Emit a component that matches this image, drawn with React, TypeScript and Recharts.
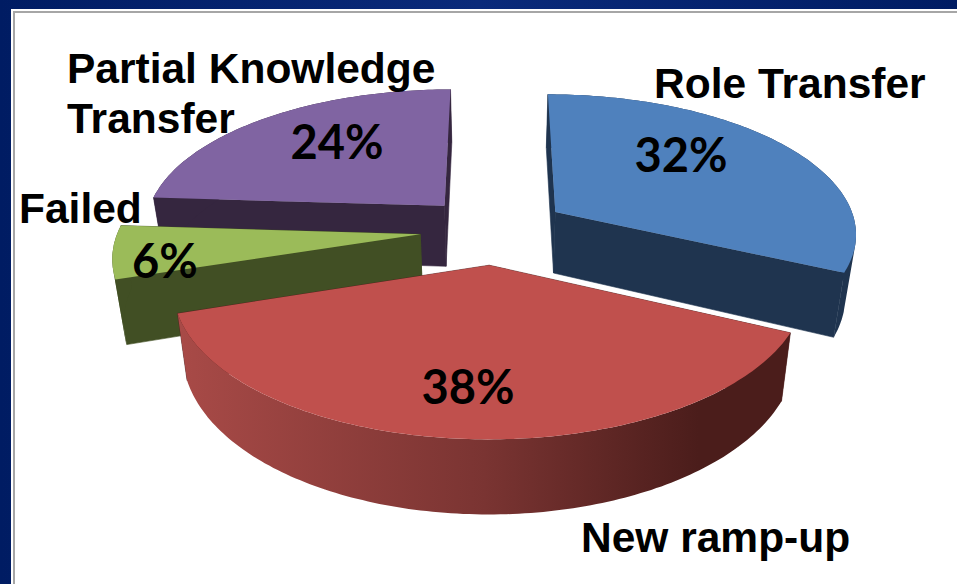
import { PieChart, Pie } from "recharts"

// drawn in this order so nearer slices paint over farther ones
const sliceNames = ["Role Transfer", "Partial Knowledge Transfer", "Failed", "New ramp-up"]
const sliceValues = [32, 24, 6, 38]
const topColors = ["#4f81bd", "#8064a2", "#9bbb59", "#c0504d"]
const wallColors = ["#1f344f", "#35263f", "#414f24", "#4f1e1c"]

const WIDTH = 957
const HEIGHT = 584
const CX = 494
const CY = 230
const RADIUS = 302
const TILT = 0.46 // vertical squash of the disc
const PERSPECTIVE = 0.14
const EXPLODE = 0.245
const DEPTH = 62
const BASE_SHRINK = 0.03

const percentAnchors = [
  { x: 681, y: 172 },
  { x: 337, y: 159 },
  { x: 165, y: 278 },
  { x: 468, y: 404 },
]
const nameLines = [
  [{ text: "Role Transfer", x: 654, y: 98 }],
  [
    { text: "Partial Knowledge", x: 67, y: 83 },
    { text: "Transfer", x: 67, y: 133 },
  ],
  [{ text: "Failed", x: 19, y: 223 }],
  [{ text: "New ramp-up", x: 581, y: 552 }],
]

const rad = (deg: number) => (deg * Math.PI) / 180

function projector(cx: number, cy: number, r: number, mid: number) {
  const ox = EXPLODE * Math.cos(rad(mid))
  const oy = -EXPLODE * Math.sin(rad(mid))
  return (angle: number | null, h: number) => {
    const u = ox + (angle === null ? 0 : Math.cos(rad(angle)))
    const v = oy + (angle === null ? 0 : -Math.sin(rad(angle)))
    const s = 1 / (1 - PERSPECTIVE * v)
    const x = cx + r * u * s * (1 - BASE_SHRINK * h)
    const y = cy + r * TILT * v * s + DEPTH * h * s
    return [x, y]
  }
}

const toPath = (pts: number[][]) =>
  "M" + pts.map(([x, y]) => `${x.toFixed(1)},${y.toFixed(1)}`).join("L") + "Z"

// same winding for every quad, otherwise overlapping ones cancel out under nonzero fill
function wound(pts: number[][]) {
  let area = 0
  pts.forEach(([x, y], i) => {
    const [nx, ny] = pts[(i + 1) % pts.length]
    area += x * ny - nx * y
  })
  return area < 0 ? pts.slice().reverse() : pts
}

function Slice3D(props: any) {
  const { cx, cy, outerRadius, startAngle, endAngle, midAngle, index } = props
  const p = projector(cx, cy, outerRadius, midAngle)
  const angles: number[] = []
  const steps = Math.ceil(Math.abs(endAngle - startAngle))
  for (let i = 0; i <= steps; i++) {
    angles.push(startAngle + ((endAngle - startAngle) * i) / steps)
  }
  const top = angles.map(a => p(a, 0))
  const wall = (a: number) => [p(null, 0), p(a, 0), p(a, 1), p(null, 1)]
  const rimFill = index === 3 ? "url(#redRim)" : wallColors[index]
  // one path of small quads, so the outer band has no seams and its silhouette stays closed
  const rim = angles
    .slice(1)
    .map((a, i) => toPath(wound([p(angles[i], 0), p(a, 0), p(a, 1), p(angles[i], 1)])))
    .join("")

  return (
    <g>
      <path d={toPath(wall(startAngle))} fill={wallColors[index]} stroke={wallColors[index]} strokeWidth={0.6} />
      <path d={toPath(wall(endAngle))} fill={wallColors[index]} stroke={wallColors[index]} strokeWidth={0.6} />
      <path d={rim} fill={rimFill} />
      <path d={toPath([p(null, 0), ...top])} fill={topColors[index]} />
    </g>
  )
}

function SliceLabel(props: any) {
  const { index, value } = props
  const pct = percentAnchors[index]
  return (
    <g>
      <text
        x={pct.x}
        y={pct.y}
        textAnchor="middle"
        fontFamily="Lato"
        fontWeight={700}
        fontSize={47}
        fill="#000"
      >
        {value}%
      </text>
      {nameLines[index].map(line => (
        <text
          key={line.text}
          x={line.x}
          y={line.y}
          fontFamily="Liberation Sans"
          fontWeight={700}
          fontSize={42.5}
          fill="#000"
        >
          {line.text}
        </text>
      ))}
    </g>
  )
}

export default function App() {
  const data = sliceNames.map((name, i) => ({ name, value: sliceValues[i] }))

  return (
    <div style={{ position: "absolute", left: 0, top: 0, width: WIDTH, height: HEIGHT, overflow: "hidden", background: "linear-gradient(90deg, #001c63, #0a2a7a 50%, #001c63)" }}>
      <div style={{ position: "absolute", left: 11, top: 9, right: -6, bottom: -6, background: "#fff" }} />
      <div style={{ position: "absolute", left: 13, top: 11, right: -6, bottom: -6, background: "#fff", border: "2px solid #a6a6a6", boxSizing: "border-box" }} />
      <div style={{ position: "absolute", left: 0, top: 0 }}>
        <PieChart width={WIDTH} height={HEIGHT} margin={{ top: 0, right: 0, bottom: 0, left: 0 }}>
          <defs>
            <linearGradient id="redRim" gradientUnits="userSpaceOnUse" x1={180} y1={0} x2={790} y2={0}>
              <stop offset="0%" stopColor="#a84a47" />
              <stop offset="50%" stopColor="#7a3432" />
              <stop offset="85%" stopColor="#4b1d1b" />
              <stop offset="100%" stopColor="#4b1d1b" />
            </linearGradient>
          </defs>
          <Pie
            data={data}
            dataKey="value"
            nameKey="name"
            cx={CX}
            cy={CY}
            innerRadius={0}
            outerRadius={RADIUS}
            startAngle={-25.2}
            endAngle={334.8}
            paddingAngle={0}
            stroke="none"
            shape={Slice3D}
            label={SliceLabel}
            labelLine={false}
            isAnimationActive={false}
          />
        </PieChart>
      </div>
    </div>
  )
}
